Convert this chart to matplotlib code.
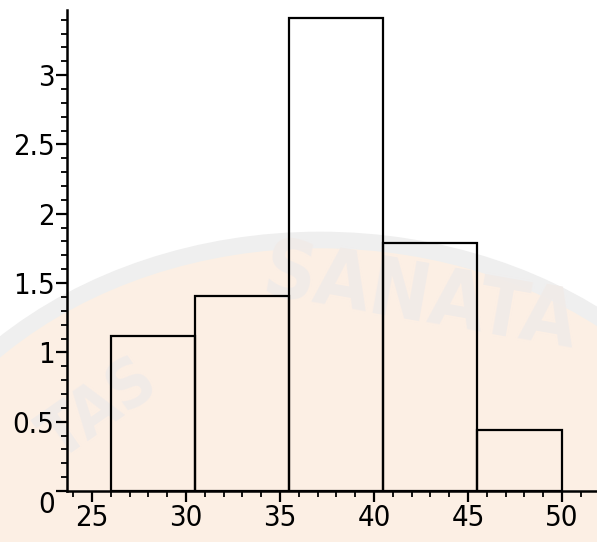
import matplotlib
matplotlib.use("Agg")
import matplotlib.pyplot as plt
from matplotlib.patches import Ellipse
from matplotlib.ticker import MultipleLocator, FixedLocator

# histogram bin edges and bar heights
bin_edges = [26.0, 30.5, 35.5, 40.5, 45.5, 50.0]
heights = [1.12, 1.41, 3.41, 1.79, 0.44]
x_ticks = [25, 30, 35, 40, 45, 50]
y_ticks = [0, 0.5, 1, 1.5, 2, 2.5, 3]
y_tick_labels = ["0", "0.5", "1", "1.5", "2", "2.5", "3"]

plt.rcParams['font.family'] = ['DejaVu Sans']
plt.rcParams['font.stretch'] = 'condensed'

fig = plt.figure(figsize=(5.97, 5.42), dpi=100)
fig.patch.set_facecolor('white')

# faint watermark behind the chart
bg = fig.add_axes([0, 0, 1, 1], zorder=0)
bg.set_xlim(0, 597)
bg.set_ylim(542, 0)
bg.axis('off')
bg.add_patch(Ellipse((320, 600), 900, 720, facecolor='#fcefe4', edgecolor='#efefef', linewidth=12))
bg.text(420, 300, "SANATA", fontsize=58, color='#f1ebe8', rotation=-10,
        ha='center', va='center', fontweight='bold')
bg.text(100, 410, "TAS", fontsize=48, color='#f1ebe8', rotation=35,
        ha='center', va='center', fontweight='bold')

ax = fig.add_axes([67 / 597, 51 / 542, 530 / 597, 481 / 542], zorder=1)
ax.patch.set_alpha(0)

widths = [b - a for a, b in zip(bin_edges[:-1], bin_edges[1:])]
ax.bar(bin_edges[:-1], heights, width=widths, align='edge',
       fill=False, edgecolor='black', linewidth=1.6)

ax.set_xlim(23.67, 51.86)
ax.set_ylim(0, 3.47)

ax.spines['top'].set_visible(False)
ax.spines['right'].set_visible(False)
ax.spines['left'].set_linewidth(1.8)
ax.spines['bottom'].set_linewidth(1.8)

ax.xaxis.set_major_locator(FixedLocator(x_ticks))
ax.xaxis.set_minor_locator(MultipleLocator(1))
ax.yaxis.set_major_locator(FixedLocator(y_ticks))
ax.yaxis.set_minor_locator(MultipleLocator(0.1))
ax.set_yticklabels(y_tick_labels)

ax.tick_params(axis='both', which='major', length=8, width=1.6, labelsize=21, pad=1, direction='out')
ax.tick_params(axis='both', which='minor', length=4, width=1.3, direction='out')

# the zero label sits a little lower than the axis line
ax.get_yticklabels()[0].set_va('top')

fig.savefig("out.png", dpi=100)
